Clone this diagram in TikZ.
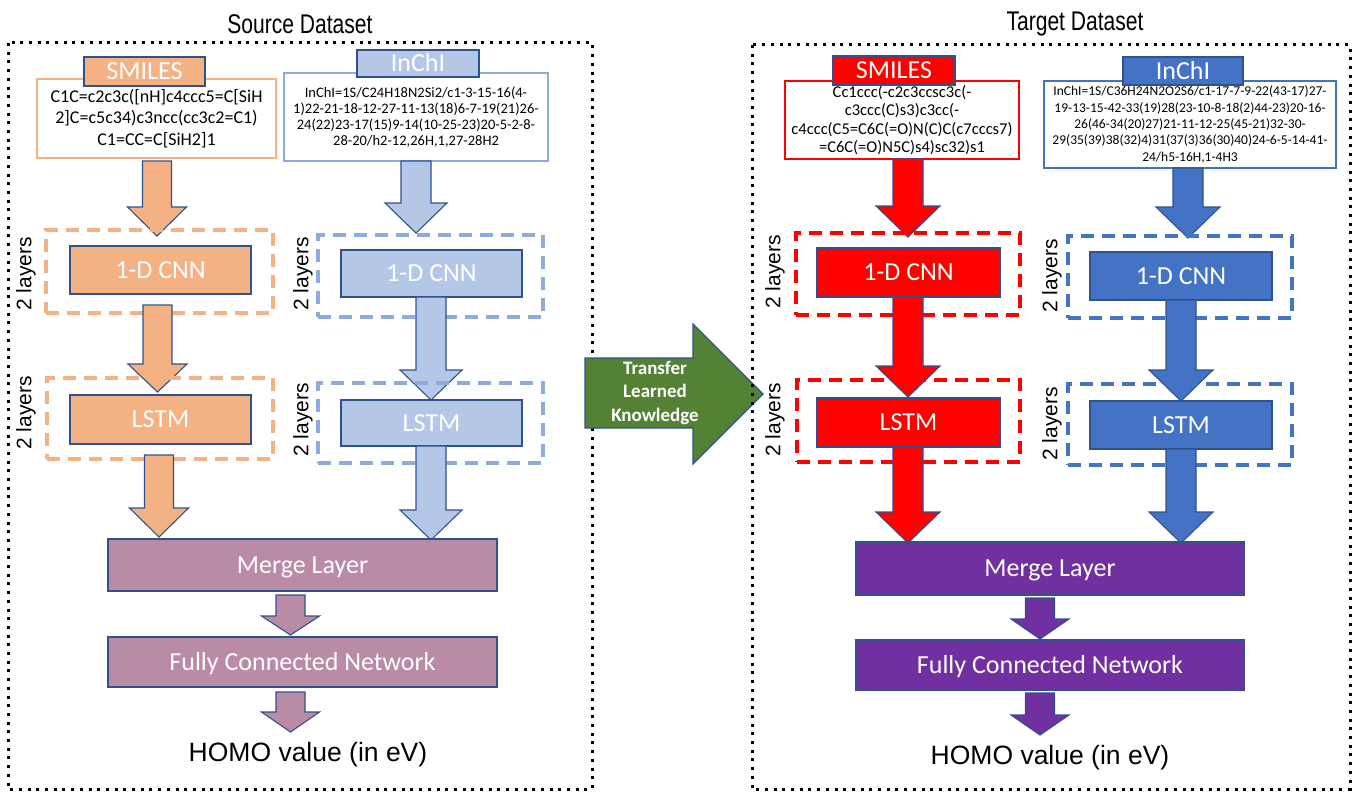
\documentclass[tikz,border=0pt]{standalone}
\usepackage{fontspec}
\setmainfont{Carlito}
\newfontfamily\arialf{Liberation Sans}
\definecolor{edge}{HTML}{2F528F}
\definecolor{orng}{HTML}{F4B183}
\definecolor{lblue}{HTML}{B4C7E7}
\definecolor{lblueb}{HTML}{8FAADC}
\definecolor{mauve}{HTML}{BA8BA5}
\definecolor{purp}{HTML}{7030A0}
\definecolor{tred}{HTML}{FF0000}
\definecolor{tblue}{HTML}{4472C4}
\definecolor{grn}{HTML}{548235}
\newcommand\rbox[7][]{%
  \pgfmathsetmacro\cx{(#3+#5)/2}\pgfmathsetmacro\cy{(#4+#6)/2}%
  \pgfmathsetmacro\ww{#5-#3}\pgfmathsetmacro\hh{#6-#4}%
  \node[inner sep=0pt, minimum width=\ww pt, minimum height=\hh pt, #1] (#2) at (\cx,\cy) {#7};}
\newcommand\barrow[7]{%
  \draw[arrowedge, fill=#1] ({#2-#5},#3) -- ({#2+#5},#3) -- ({#2+#5},{#4-#7}) -- ({#2+#6},{#4-#7}) -- (#2,#4) -- ({#2-#6},{#4-#7}) -- ({#2-#5},{#4-#7}) -- cycle;}
\begin{document}
\begin{tikzpicture}[x=1pt,y=-1pt,
  dotbox/.style={line width=3pt, dash pattern=on 3pt off 5.7pt},
  dashbox/.style={draw=#1, line width=3.5pt, dash pattern=on 13pt off 8pt},
  inbox/.style={draw=edge, line width=1.1pt, fill=#1, text=white, font=\fontsize{26}{30}\selectfont, text height=16.7pt, text depth=0pt},
  databox/.style={draw=#1, line width=2.5pt, fill=white, align=center},
  arrowedge/.style={draw=edge, line width=1.1pt},
  title/.style={font=\arialf\fontsize{27}{30}\selectfont},
  layers/.style={rotate=90, font=\arialf\fontsize{21}{25}\selectfont},
  homo/.style={font=\arialf\fontsize{26.5}{30}\selectfont}]
\useasboundingbox (0,0) rectangle (1354,792);

% ---------------- Source ----------------
\draw[dotbox] (8,43) rectangle (592,789);
\node[title] (stitle) at (300,24) {\scalebox{0.78}[1]{Source Dataset}};

\rbox[databox=orng, font=\fontsize{18}{21.7}\selectfont]{ssmi}{37}{79}{276}{158}{C1C=c2c3c([nH]c4ccc5=C[SiH\\2]C=c5c34)c3ncc(cc3c2=C1)\\C1=CC=C[SiH2]1}
\rbox[inbox=orng]{ssmitab}{84}{57}{205}{86}{SMILES}

\rbox[databox=lblueb, font=\fontsize{14.5}{16}\selectfont]{sinc}{284}{73}{548}{161}{InChI=1S/C24H18N2Si2/c1-3-15-16(4-\\1)22-21-18-12-27-11-13(18)6-7-19(21)26-\\24(22)23-17(15)9-14(10-25-23)20-5-2-8-\\28-20/h2-12,26H,1,27-28H2}
\rbox[inbox=lblue]{sinctab}{357}{50}{479}{77}{InChI}

% arrows source smiles
\barrow{orng}{157}{161}{236}{14.5}{29.5}{29}
\rbox[dashbox=orng]{scnnd}{46}{230}{273}{313}{}
\rbox[inbox=orng]{scnn}{70}{246}{251}{294}{1-D CNN}
\barrow{orng}{157.5}{305}{392}{14.5}{29.5}{28}
\rbox[dashbox=orng]{slstmd}{47}{378}{273}{459}{}
\rbox[inbox=orng]{slstm}{70}{395}{251}{444}{LSTM}
\barrow{orng}{159}{455}{537}{14.5}{29.5}{29}
\node[layers] (slay1) at (26,274) {2 layers};
\node[layers] (slay2) at (26,413) {2 layers};

% arrows source inchi
\barrow{lblue}{416}{161}{233}{15}{31}{30}
\rbox[dashbox=lblueb]{sicnnd}{318}{235}{543}{317}{}
\rbox[inbox=lblue]{sicnn}{341}{250}{522}{297}{1-D CNN}
\barrow{lblue}{431}{297}{400}{15}{31}{30}
\rbox[dashbox=lblueb]{silstmd}{318}{383}{543}{463}{}
\rbox[inbox=lblue]{silstm}{341}{400}{522}{446}{LSTM}
\barrow{lblue}{431}{446}{540}{15}{31}{30}
\node[layers] (silay1) at (303,274) {2 layers};
\node[layers] (silay2) at (303,420) {2 layers};

\rbox[inbox=mauve]{smerge}{108}{539}{497}{591}{Merge Layer}
\barrow{mauve}{290.5}{595}{635}{14.5}{29}{19}
\rbox[inbox=mauve]{sfcn}{108}{637}{497}{687}{Fully Connected Network}
\barrow{mauve}{290.5}{692}{732}{14.5}{29}{20}
\node[homo] (shomo) at (308,755) {HOMO value (in eV)};

% ---------------- Transfer ----------------
\draw[arrowedge, fill=grn] (585,358) -- (693,358) -- (693,324) -- (763,394) -- (693,464) -- (693,428) -- (585,428) -- cycle;
\node[text=white, font=\bfseries\fontsize{19}{23.5}\selectfont, align=center] (transfer) at (655,393) {Transfer\\Learned\\Knowledge};

% ---------------- Target ----------------
\draw[dotbox] (752,45) rectangle (1350,789);
\node[title] (ttitle) at (1075,24) {\scalebox{0.78}[1]{Target Dataset}};

\rbox[databox=tred, font=\fontsize{16.5}{18.3}\selectfont]{tsmi}{785}{81}{1019}{159}{Cc1ccc(-c2c3ccsc3c(-\\c3ccc(C)s3)c3cc(-\\c4ccc(C5=C6C(=O)N(C)C(c7cccs7)\\=C6C(=O)N5C)s4)sc32)s1}
\rbox[inbox=tred]{tsmitab}{833}{56}{955}{85}{SMILES}

\rbox[databox=tblue, font=\fontsize{13.5}{16.3}\selectfont]{tinc}{1044}{81}{1336}{168}{InChI=1S/C36H24N2O2S6/c1-17-7-9-22(43-17)27-\\19-13-15-42-33(19)28(23-10-8-18(2)44-23)20-16-\\26(46-34(20)27)21-11-12-25(45-21)32-30-\\29(35(39)38(32)4)31(37(3)36(30)40)24-6-5-14-41-\\24/h5-16H,1-4H3}
\rbox[inbox=tblue]{tinctab}{1123}{57}{1243}{85}{InChI}

\barrow{tred}{908}{159}{237}{15}{32}{31}
\rbox[dashbox=tred]{tcnnd}{796}{233}{1020}{315}{}
\rbox[inbox=tred]{tcnn}{817}{248}{1000}{297}{1-D CNN}
\barrow{tred}{908}{297}{397}{15}{32}{31}
\rbox[dashbox=tred]{tlstmd}{797}{380}{1020}{462}{}
\rbox[inbox=tred]{tlstm}{817}{398}{1000}{447}{LSTM}
\barrow{tred}{908}{447}{543}{15}{32}{31}
\node[layers] (tlay1) at (775,272) {2 layers};
\node[layers] (tlay2) at (775,420) {2 layers};

\barrow{tblue}{1188}{168}{238}{15}{32}{31}
\rbox[dashbox=tblue]{ticnnd}{1068}{236}{1292}{318}{}
\rbox[inbox=tblue]{ticnn}{1090}{252}{1272}{300}{1-D CNN}
\barrow{tblue}{1181}{300}{401}{15}{32}{31}
\rbox[dashbox=tblue]{tilstmd}{1068}{384}{1292}{465}{}
\rbox[inbox=tblue]{tilstm}{1090}{401}{1272}{449}{LSTM}
\barrow{tblue}{1181}{449}{543}{15}{32}{31}
\node[layers] (tilay1) at (1052,276) {2 layers};
\node[layers] (tilay2) at (1052,424) {2 layers};

\rbox[inbox=purp]{tmerge}{856}{542}{1244}{595}{Merge Layer}
\barrow{purp}{1040}{598}{639}{14.5}{29}{20}
\rbox[inbox=purp]{tfcn}{856}{640}{1244}{690}{Fully Connected Network}
\barrow{purp}{1040}{693}{735}{14.5}{29}{20}
\node[homo] (thomo) at (1050,758) {HOMO value (in eV)};
\end{tikzpicture}
\end{document}
